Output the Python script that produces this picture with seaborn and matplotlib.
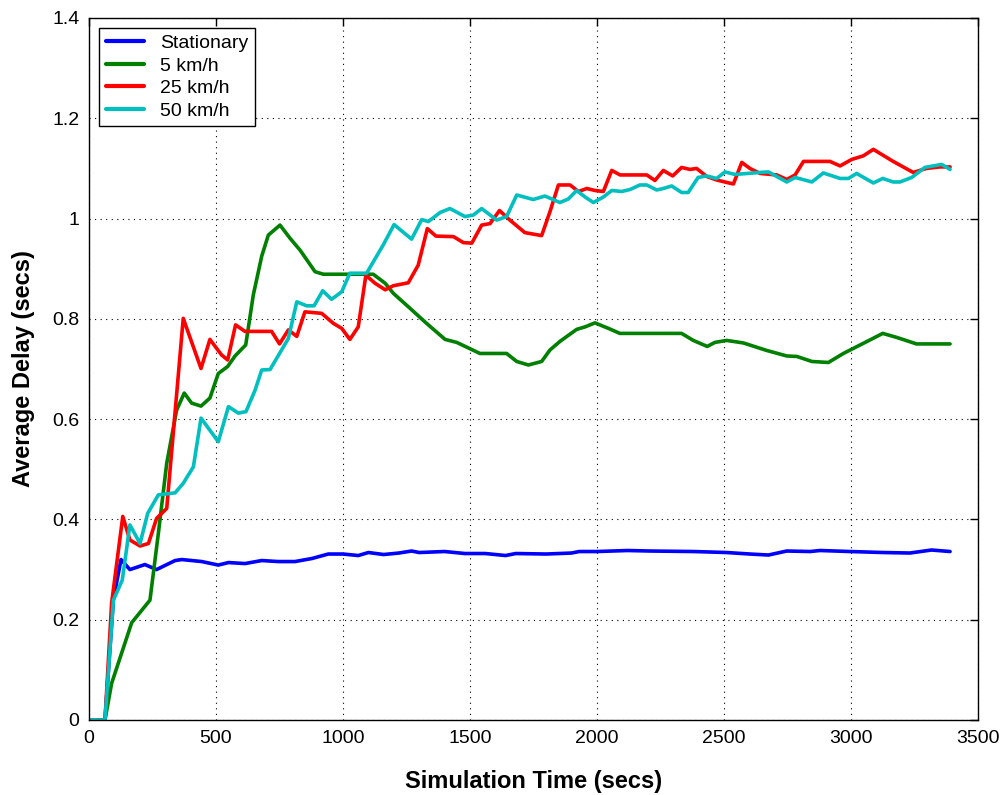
import numpy as np
import pandas as pd
import matplotlib
matplotlib.use("Agg")
import matplotlib.pyplot as plt
import seaborn as sns
from matplotlib.ticker import FormatStrFormatter

# Average delay per mobility scenario over simulation time
series_names = ["Stationary", "5 km/h", "25 km/h", "50 km/h"]

stationary_t = [0, 63, 96, 126, 161, 220, 266, 339, 365, 444, 509, 549, 614, 680, 745,
                811, 877, 942, 1000, 1060, 1100, 1160, 1220, 1270, 1300, 1400, 1480,
                1560, 1640, 1680, 1800, 1900, 1930, 2000, 2120, 2209, 2380, 2510, 2602,
                2675, 2747, 2839, 2878, 2996, 3127, 3232, 3317, 3390]
stationary_v = [0, 0, 0.24, 0.32, 0.30, 0.31, 0.30, 0.318, 0.32, 0.316, 0.309, 0.314,
                0.312, 0.318, 0.316, 0.316, 0.322, 0.331, 0.331, 0.328, 0.334, 0.330,
                0.333, 0.337, 0.334, 0.336, 0.332, 0.332, 0.328, 0.332, 0.331, 0.333,
                0.336, 0.336, 0.338, 0.337, 0.336, 0.334, 0.331, 0.329, 0.337, 0.336,
                0.338, 0.336, 0.334, 0.333, 0.339, 0.336]

kmh5_t = [0, 63, 89, 168, 240, 273, 306, 345, 375, 404, 441, 476, 509, 546, 575, 617,
          647, 680, 706, 752, 791, 831, 890, 923, 1119, 1166, 1198, 1264, 1329, 1402,
          1448, 1539, 1644, 1684, 1730, 1782, 1815, 1854, 1920, 1953, 1992, 2045, 2090,
          2333, 2379, 2434, 2464, 2510, 2576, 2668, 2747, 2787, 2846, 2911, 2970, 3075,
          3125, 3180, 3258, 3390]
kmh5_v = [0, 0, 0.073, 0.194, 0.239, 0.372, 0.512, 0.618, 0.652, 0.632, 0.626, 0.642,
          0.691, 0.705, 0.726, 0.748, 0.848, 0.925, 0.967, 0.987, 0.961, 0.937, 0.894,
          0.889, 0.889, 0.871, 0.851, 0.821, 0.791, 0.759, 0.753, 0.731, 0.731, 0.715,
          0.708, 0.715, 0.738, 0.755, 0.779, 0.784, 0.792, 0.781, 0.771, 0.771, 0.757,
          0.745, 0.753, 0.757, 0.752, 0.737, 0.726, 0.725, 0.715, 0.713, 0.731, 0.758,
          0.771, 0.763, 0.750, 0.750]

kmh25_t = [0, 63, 89, 133, 161, 201, 234, 266, 306, 371, 441, 476, 522, 546, 577, 614,
           719, 750, 785, 818, 850, 916, 962, 995, 1027, 1060, 1090, 1126, 1166, 1198,
           1257, 1296, 1332, 1366, 1435, 1474, 1507, 1546, 1579, 1616, 1657, 1716, 1782,
           1815, 1848, 1894, 1927, 1960, 1992, 2025, 2058, 2091, 2196, 2228, 2261, 2298,
           2333, 2366, 2392, 2432, 2471, 2511, 2537, 2570, 2602, 2642, 2708, 2747, 2780,
           2813, 2917, 2957, 3003, 3048, 3088, 3166, 3245, 3297, 3350, 3390]
kmh25_v = [0, 0, 0.233, 0.406, 0.359, 0.347, 0.352, 0.402, 0.422, 0.801, 0.701, 0.759,
           0.728, 0.718, 0.788, 0.775, 0.775, 0.750, 0.778, 0.765, 0.814, 0.811, 0.791,
           0.781, 0.759, 0.784, 0.887, 0.871, 0.858, 0.866, 0.872, 0.907, 0.980, 0.965,
           0.964, 0.952, 0.951, 0.987, 0.990, 1.016, 0.997, 0.972, 0.966, 1.014, 1.067,
           1.067, 1.054, 1.060, 1.056, 1.054, 1.096, 1.087, 1.087, 1.076, 1.096, 1.085,
           1.102, 1.098, 1.100, 1.084, 1.077, 1.072, 1.069, 1.112, 1.100, 1.090, 1.087,
           1.078, 1.087, 1.114, 1.114, 1.105, 1.118, 1.125, 1.138, 1.114, 1.092, 1.100,
           1.103, 1.103]

kmh50_t = [0, 63, 96, 131, 161, 201, 231, 273, 339, 371, 411, 441, 509, 549, 588, 618,
           654, 680, 713, 785, 818, 857, 886, 920, 955, 995, 1027, 1093, 1159, 1201,
           1270, 1310, 1336, 1382, 1421, 1480, 1513, 1546, 1605, 1644, 1684, 1749, 1795,
           1854, 1887, 1920, 1953, 1986, 2025, 2058, 2097, 2130, 2169, 2196, 2235, 2261,
           2294, 2333, 2359, 2398, 2432, 2471, 2504, 2543, 2642, 2675, 2747, 2780, 2846,
           2891, 2957, 2990, 3022, 3088, 3125, 3166, 3193, 3239, 3291, 3357, 3390]
kmh50_v = [0, 0, 0.239, 0.279, 0.389, 0.352, 0.412, 0.449, 0.453, 0.472, 0.505, 0.602,
           0.555, 0.625, 0.612, 0.615, 0.658, 0.698, 0.699, 0.761, 0.834, 0.826, 0.826,
           0.856, 0.839, 0.854, 0.891, 0.891, 0.948, 0.988, 0.959, 0.998, 0.994, 1.012,
           1.020, 1.004, 1.007, 1.020, 0.997, 1.004, 1.047, 1.038, 1.045, 1.032, 1.039,
           1.056, 1.043, 1.032, 1.043, 1.056, 1.054, 1.058, 1.067, 1.067, 1.057, 1.060,
           1.065, 1.052, 1.052, 1.082, 1.085, 1.080, 1.093, 1.088, 1.092, 1.093, 1.073,
           1.082, 1.073, 1.091, 1.080, 1.080, 1.090, 1.071, 1.080, 1.073, 1.073, 1.082,
           1.102, 1.108, 1.098]

x_ticks = [0, 500, 1000, 1500, 2000, 2500, 3000, 3500]
y_ticks = [0, 0.2, 0.4, 0.6, 0.8, 1.0, 1.2, 1.4]

frames = []
for name, t, v in zip(series_names,
                      [stationary_t, kmh5_t, kmh25_t, kmh50_t],
                      [stationary_v, kmh5_v, kmh25_v, kmh50_v]):
    frames.append(pd.DataFrame({"time": t, "delay": v, "scenario": name}))
df = pd.concat(frames, ignore_index=True)

palette = {"Stationary": "#0000ff", "5 km/h": "#008000",
           "25 km/h": "#ff0000", "50 km/h": "#00bfbf"}

sns.set_style("white")
plt.rcParams["font.family"] = ["Liberation Sans", "DejaVu Sans"]
plt.rcParams["text.color"] = "black"
plt.rcParams["axes.labelcolor"] = "black"
plt.rcParams["xtick.color"] = "black"
plt.rcParams["ytick.color"] = "black"

fig = plt.figure(figsize=(10.08, 7.95), dpi=100)
ax = fig.add_axes([89 / 1008, 1 - 720 / 795, (978 - 89) / 1008, (720 - 18) / 795])

sns.lineplot(data=df, x="time", y="delay", hue="scenario", hue_order=series_names,
             palette=palette, estimator=None, sort=False, linewidth=2.6, ax=ax,
             legend=False)

ax.set_xlim(0, 3500)
ax.set_ylim(0, 1.4)
ax.set_xticks(x_ticks)
ax.set_yticks(y_ticks)
ax.yaxis.set_major_formatter(FormatStrFormatter("%g"))
ax.tick_params(direction="in", length=6, width=1, top=True, right=True,
               labelsize=14, colors="black", pad=7)
ax.grid(True, linestyle=(0, (1, 4)), color="black", linewidth=0.8)
for sp in ax.spines.values():
    sp.set_visible(True)
    sp.set_color("black")
    sp.set_linewidth(1)

ax.set_xlabel("Simulation Time (secs)", fontsize=17, fontweight="bold", labelpad=17)
ax.set_ylabel("Average Delay (secs)", fontsize=17, fontweight="bold", labelpad=12)

handles = [plt.Line2D([], [], color=palette[n], linewidth=3) for n in series_names]
leg = ax.legend(handles, series_names, loc="upper left", fontsize=14, frameon=True,
                fancybox=False, framealpha=1, edgecolor="black", handlelength=2.0,
                borderpad=0.35, labelspacing=0.25, borderaxespad=0.5, handletextpad=0.8)
leg.get_frame().set_linewidth(1)

fig.savefig("out.png", dpi=100, facecolor="white")
